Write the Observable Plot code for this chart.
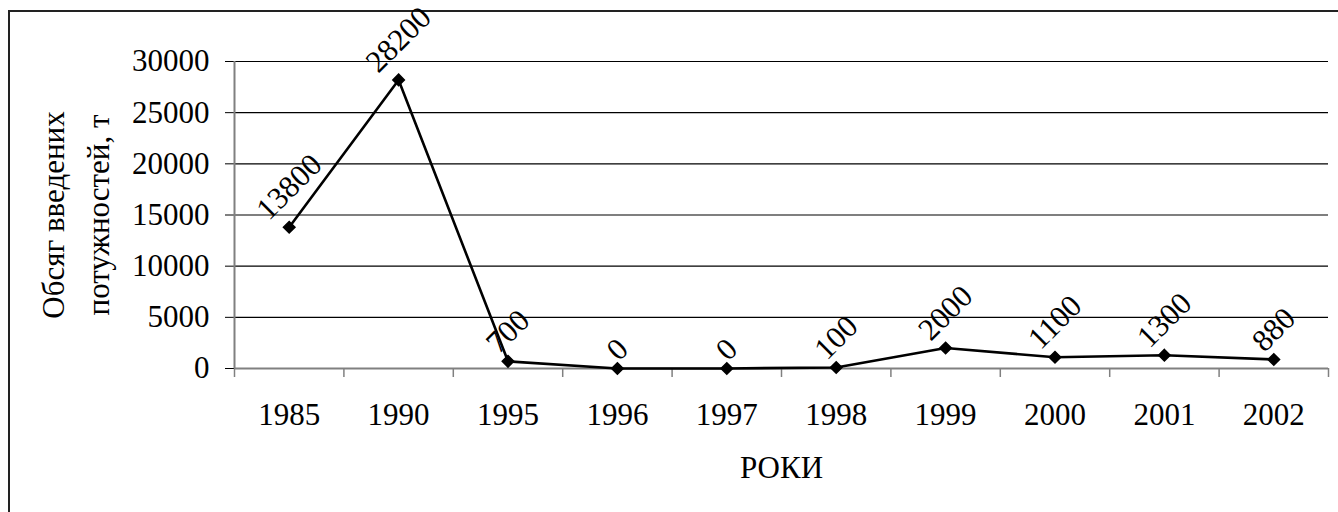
<!DOCTYPE html>
<html>
<head>
<meta charset="utf-8">
<script src="https://cdn.jsdelivr.net/npm/d3@7"></script>
<script src="https://cdn.jsdelivr.net/npm/@observablehq/plot@0.6"></script>
<style>
  html, body { margin: 0; padding: 0; background: #fff; overflow: hidden; }
  #wrap { position: relative; width: 1338px; height: 512px; }
  #border { position: absolute; left: 8px; top: 10px; width: 1400px; height: 600px; border: 2px solid #222; box-sizing: border-box; }
  #chart { position: absolute; left: 0; top: 0; }
</style>
</head>
<body>
<div id="wrap"><div id="border"></div><div id="chart"></div></div>
<script>
const years = ["1985", "1990", "1995", "1996", "1997", "1998", "1999", "2000", "2001", "2002"];
const values = [13800, 28200, 700, 0, 0, 100, 2000, 1100, 1300, 880];
const yTicks = [0, 5000, 10000, 15000, 20000, 25000, 30000];
const yTitle = "Обсяг введених\nпотужностей, т";
const xTitle = "РОКИ";

const data = years.map((yr, i) => ({i: i + 0.5, year: yr, value: values[i]}));
const font = "'Liberation Serif', 'Times New Roman', serif";
const fs = 31;

const labelMarks = data.map(d => {
  const s = String(d.value);
  const off = 6 + (s.length * 15 + 22) / 2.83;
  return Plot.text([d], {
    x: "i", y: "value", text: d => String(d.value),
    rotate: -45, textAnchor: "middle", lineAnchor: "middle",
    dy: -off, fontSize: 31, fill: "#000"
  });
});

const chart = Plot.plot({
  width: 1338,
  height: 512,
  marginLeft: 234,
  marginRight: 10,
  marginTop: 61,
  marginBottom: 144,
  style: {fontFamily: font, fontSize: fs + "px", background: "transparent", color: "#000"},
  x: {type: "linear", domain: [0, years.length], axis: null},
  y: {domain: [0, 30000], axis: null},
  marks: [
    Plot.ruleY(yTicks.filter(t => t > 0), {stroke: "#000", strokeWidth: 1.2}),
    Plot.axisY({ticks: yTicks, tickSize: 9, tickPadding: 16, tickFormat: d => String(d), fontSize: fs, label: null, stroke: "#000"}),
    Plot.ruleY([0], {stroke: "#808080", strokeWidth: 2}),
    Plot.ruleX([0], {stroke: "#808080", strokeWidth: 2}),
    Plot.axisX({ticks: d3.range(0, years.length + 1), tickSize: 9, tickFormat: () => "", stroke: "#808080", strokeWidth: 1.5, label: null}),
    Plot.axisX({ticks: data.map(d => d.i), tickSize: 0, tickPadding: 34, tickFormat: v => years[Math.floor(v)], fontSize: fs, label: null}),
    Plot.lineY(data, {x: "i", y: "value", stroke: "#000", strokeWidth: 2.6}),
    Plot.dot(data, {x: "i", y: "value", symbol: "diamond2", r: 5.2, fill: "#000", stroke: "#000"}),
    ...labelMarks,
    Plot.text([yTitle], {frameAnchor: "left", dx: -162, rotate: -90, textAnchor: "middle", lineAnchor: "middle", lineHeight: 1.45, fontSize: fs, fill: "#000"}),
    Plot.text([xTitle], {frameAnchor: "bottom", dy: 100, textAnchor: "middle", lineAnchor: "middle", fontSize: fs, fill: "#000"})
  ]
});
document.getElementById("chart").appendChild(chart);
</script>
</body>
</html>
